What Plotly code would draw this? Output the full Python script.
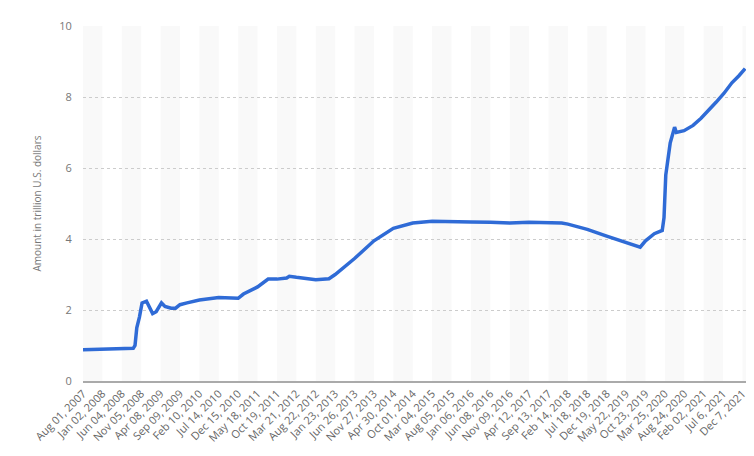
import pandas as pd
import plotly.graph_objects as go

dates = ["2007-08-01","2008-01-02","2008-06-04","2008-09-03","2008-09-17","2008-10-01","2008-10-22","2008-11-12","2008-12-17",
"2009-01-07","2009-02-04","2009-03-04","2009-04-01","2009-04-15","2009-05-13","2009-07-01","2009-08-05","2009-09-09","2009-11-04",
"2010-02-10","2010-07-14","2010-12-15","2011-01-26","2011-05-18","2011-08-10","2011-10-19","2012-01-04","2012-01-25","2012-03-21",
"2012-08-22","2012-12-05","2013-01-23","2013-06-26","2013-11-27","2014-04-30","2014-10-01","2015-03-04","2015-08-05","2016-01-06",
"2016-06-08","2016-11-09","2017-04-12","2017-09-13","2017-12-27","2018-02-14","2018-07-18","2018-12-19","2019-05-22","2019-09-11",
"2019-10-23","2020-01-01","2020-03-04","2020-03-18","2020-04-01","2020-05-06","2020-06-10","2020-06-24","2020-08-24","2020-11-04",
"2021-01-06","2021-03-03","2021-05-05","2021-07-06","2021-09-08","2021-11-03","2021-12-08","2021-12-22"]
values = [0.88,0.90,0.90,0.92,1.0,1.5,1.8,2.2,2.25,
2.1,1.9,1.95,2.1,2.2,2.1,2.05,2.05,2.15,2.2,
2.28,2.35,2.33,2.45,2.65,2.87,2.87,2.9,2.95,2.92,
2.85,2.88,3.0,3.45,3.95,4.3,4.45,4.5,4.48,4.48,
4.47,4.45,4.47,4.46,4.45,4.42,4.27,4.08,3.9,3.77,
3.95,4.15,4.24,4.6,5.8,6.7,7.15,7.0,7.05,7.2,
7.4,7.6,7.85,8.1,8.4,8.6,8.75,8.8]
tick_labels = ["Aug 01, 2007","Jan 02, 2008","Jun 04, 2008","Nov 05, 2008","Apr 08, 2009","Sep 09, 2009","Feb 10, 2010",
"Jul 14, 2010","Dec 15, 2010","May 18, 2011","Oct 19, 2011","Mar 21, 2012","Aug 22, 2012","Jan 23, 2013","Jun 26, 2013",
"Nov 27, 2013","Apr 30, 2014","Oct 01, 2014","Mar 04, 2015","Aug 05, 2015","Jan 06, 2016","Jun 08, 2016","Nov 09, 2016",
"Apr 12, 2017","Sep 13, 2017","Feb 14, 2018","Jul 18, 2018","Dec 19, 2018","May 22, 2019","Oct 23, 2019","Mar 25, 2020",
"Aug 24, 2020","Feb 02, 2021","Jul 6, 2021","Dec 7, 2021"]

start = pd.Timestamp("2007-08-01")
x = [(pd.Timestamp(d) - start).days / 7 for d in dates]
step = 22
tickvals = [i * step for i in range(len(tick_labels))]
xmax = 752

fig = go.Figure()
fig.add_trace(go.Scatter(x=x, y=values, mode="lines", line=dict(color="#2f6bd6", width=3.5)))

shapes = []
for i in range(0, len(tickvals), 2):
    x0 = tickvals[i]; x1 = min(x0 + step, xmax)
    shapes.append(dict(type="rect", xref="x", yref="paper", x0=x0, x1=x1, y0=0, y1=1,
                       fillcolor="#f9f9f9", line=dict(width=0), layer="below"))
fig.update_layout(
    width=754, height=456, margin=dict(l=75, r=16, t=18, b=83, autoexpand=False),
    paper_bgcolor="white", plot_bgcolor="white", showlegend=False, shapes=shapes,
    font=dict(family="Open Sans", color="#666", size=11),
    xaxis=dict(range=[0, xmax], tickvals=tickvals, ticktext=tick_labels, tickangle=-45, automargin=False,
               showgrid=False, zeroline=False, showline=True, linecolor="#aaa", linewidth=2,
               tickfont=dict(size=11, color="#666")),
    yaxis=dict(range=[0, 10], dtick=2, showgrid=True, gridcolor="#ccc", griddash="dot", automargin=False,
               zeroline=False, title=dict(text="Amount in trillion U.S. dollars", font=dict(size=10, color="#777")),
               tickfont=dict(size=11, color="#777"), ticklen=8, tickcolor="white", ticks="outside"),
)
fig.write_html("out.html")
